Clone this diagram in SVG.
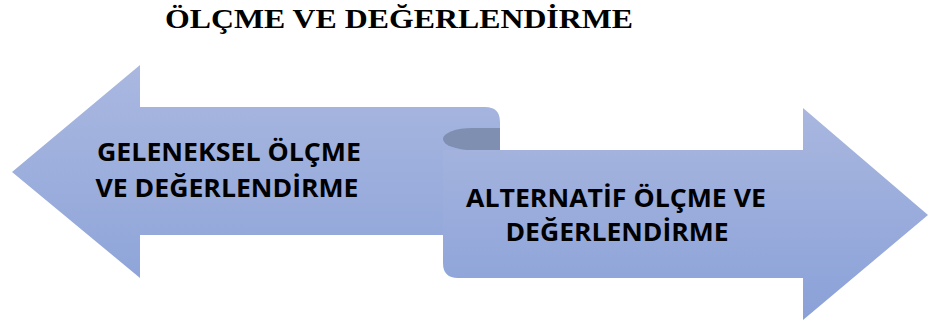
<svg xmlns="http://www.w3.org/2000/svg" width="934" height="324" viewBox="0 0 934 324">
<defs>
<linearGradient id="gL" x1="0" y1="65" x2="0" y2="278" gradientUnits="userSpaceOnUse">
<stop offset="0" stop-color="#aab8e0"/><stop offset="1" stop-color="#8fa5d9"/>
</linearGradient>
<linearGradient id="gR" x1="0" y1="108" x2="0" y2="320" gradientUnits="userSpaceOnUse">
<stop offset="0" stop-color="#a9b7df"/><stop offset="1" stop-color="#8aa1d8"/>
</linearGradient>
</defs>
<style>
.t{font-family:"Times New Roman","Liberation Serif",serif;font-weight:bold;font-size:28px;fill:#000}
.l{font-family:"Open Sans","Noto Sans",sans-serif;font-weight:bold;font-size:25.5px;fill:#000;text-anchor:middle}
</style>
<text class="t" x="399" y="28" text-anchor="middle" textLength="468" lengthAdjust="spacingAndGlyphs">ÖLÇME VE DEĞERLENDİRME</text>
<g id="connectors"></g>
<g id="right-arrow">
<path d="M443,150 L803,150 L803,108 L928,215 L803,320 L803,278 L458,278 Q443,278 443,263 Z" fill="url(#gR)"/>
</g>
<g id="left-arrow">
<path d="M500,150 L500,122 Q500,107 485,107 L140,107 L140,65 L12,172 L140,278 L140,235 L443,235 L443,150 Z" fill="url(#gL)"/>
<path d="M500,128 L472,128 A29,11 0 0 0 472,150 L500,150 Z" fill="#7f8fb2"/>
</g>
<g id="label-left">
<text class="l" x="229" y="161" textLength="264" lengthAdjust="spacingAndGlyphs">GELENEKSEL ÖLÇME</text>
<text class="l" x="227" y="197" textLength="263" lengthAdjust="spacingAndGlyphs">VE DEĞERLENDİRME</text>
</g>
<g id="label-right">
<text class="l" x="616" y="207" textLength="300" lengthAdjust="spacingAndGlyphs">ALTERNATİF ÖLÇME VE</text>
<text class="l" x="617" y="241" textLength="223" lengthAdjust="spacingAndGlyphs">DEĞERLENDİRME</text>
</g>
</svg>
